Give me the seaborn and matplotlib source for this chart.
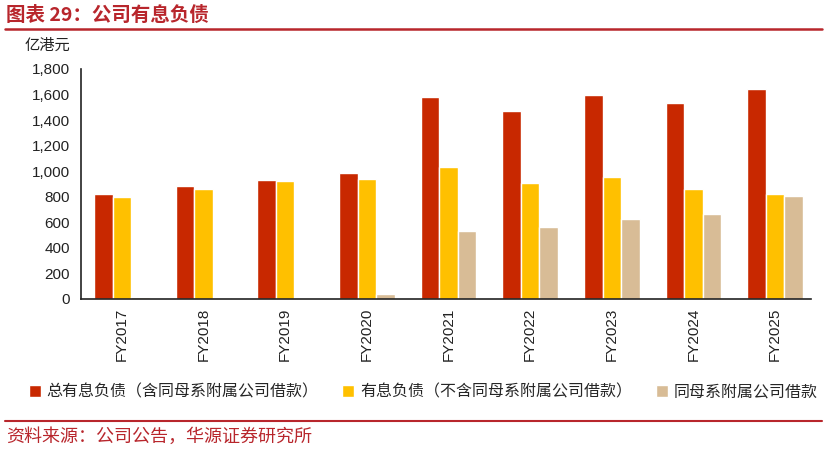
import numpy as np
import pandas as pd
import matplotlib
matplotlib.use('Agg')
import matplotlib.pyplot as plt
from matplotlib.ticker import FuncFormatter, FixedLocator
import seaborn as sb

# 数据
years = ['FY2017', 'FY2018', 'FY2019', 'FY2020', 'FY2021', 'FY2022', 'FY2023', 'FY2024', 'FY2025']
total_debt = [825, 882, 935, 988, 1578, 1473, 1594, 1534, 1640]
debt_ex_parent = [800, 864, 920, 942, 1030, 905, 957, 860, 822]
parent_loans = [12, 5, 0, 38, 534, 560, 625, 662, 805]
series_names = ['总有息负债（含同母系附属公司借款）', '有息负债（不含同母系附属公司借款）', '同母系附属公司借款']
colors = ['#C82800', '#FFC000', '#D8BC96']

df = pd.DataFrame({
    'year': years * 3,
    'value': total_debt + debt_ex_parent + parent_loans,
    'series': [series_names[0]] * 9 + [series_names[1]] * 9 + [series_names[2]] * 9,
})

sb.set_style('white')
plt.rcParams['font.family'] = ['Liberation Sans', 'Noto Sans CJK SC']
cjk = ['Noto Sans CJK SC', 'DejaVu Sans']
red = '#B8262C'

fig = plt.figure(figsize=(8.28, 4.51), dpi=100)
ax = fig.add_axes([81 / 828, 1 - 299 / 451, (811 - 81) / 828, (299 - 69) / 451])

sb.barplot(data=df, x='year', y='value', hue='series', palette=colors,
           width=0.68, saturation=1, ax=ax, legend=True)

ax.set_ylim(0, 1800)
ax.set_xlim(-0.5, 8.44)
ax.set_yticks(np.arange(0, 1801, 200))
ax.yaxis.set_major_formatter(FuncFormatter(lambda v, p: f'{int(v):,}'))
ax.set_xlabel('')
ax.set_ylabel('')

# x 轴刻度在类别边界，标签在类别中间
ax.xaxis.set_major_locator(FixedLocator(np.arange(-0.5, 9, 1.0)))
ax.xaxis.set_minor_locator(FixedLocator(np.arange(0, 9)))
ax.set_xticklabels([''] * 10)
ax.set_xticklabels(years, minor=True, rotation=90)
ax.tick_params(axis='x', which='major', direction='out', length=5, width=1.2, color='#222222')
ax.tick_params(axis='x', which='minor', length=0, pad=6, labelsize=11, labelcolor='#222222')
ax.tick_params(axis='y', direction='out', length=5, width=1.2, color='#222222',
               labelsize=11, labelcolor='#222222', pad=3)

for s in ['top', 'right']:
    ax.spines[s].set_visible(False)
for s in ['left', 'bottom']:
    ax.spines[s].set_color('#222222')
    ax.spines[s].set_linewidth(1.2)

handles, labels = ax.get_legend_handles_labels()
ax.get_legend().remove()
fig.legend(handles, labels, loc='center', bbox_to_anchor=(0.511, 1 - 392 / 451), ncol=3,
           frameon=False, prop={'family': cjk, 'size': 11.5}, handlelength=0.75,
           handleheight=0.75, handletextpad=0.35, columnspacing=1.5)

# 标题、单位、来源
fig.text(6 / 828, 1 - 15 / 451, '图表 29：公司有息负债', family=cjk, fontsize=14,
         fontweight='bold', color=red, va='center', ha='left')
fig.add_artist(plt.Line2D([5 / 828, 822 / 828], [1 - 29 / 451] * 2, color=red, lw=1.8))
fig.text(25 / 828, 1 - 45 / 451, '亿港元', family=cjk, fontsize=11, color='#222222',
         va='center', ha='left')
fig.add_artist(plt.Line2D([5 / 828, 822 / 828], [1 - 421 / 451] * 2, color=red, lw=1.5))
fig.text(6 / 828, 1 - 437 / 451, '资料来源：公司公告，华源证券研究所', family=cjk, fontsize=13,
         color=red, va='center', ha='left')

fig.savefig('out.png', dpi=100)
